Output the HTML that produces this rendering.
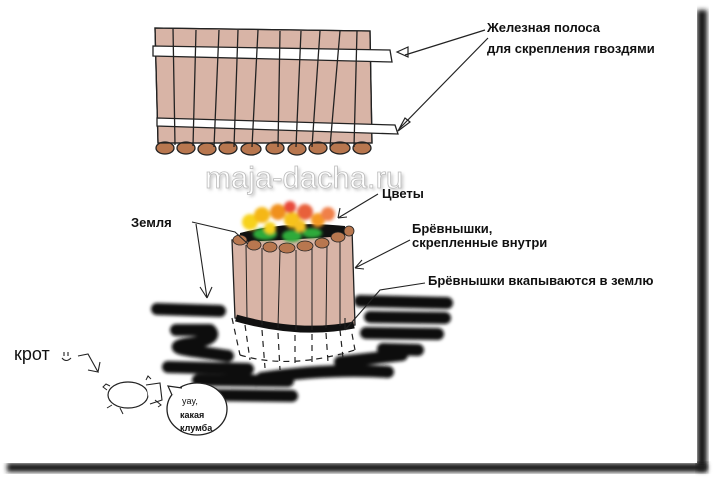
<!DOCTYPE html>
<html><head><meta charset="utf-8"><style>
html,body{margin:0;padding:0;background:#fff;}
svg{display:block}
text{font-family:"Liberation Sans","DejaVu Sans",sans-serif;}
</style></head><body>
<svg width="715" height="481" viewBox="0 0 715 481" xmlns="http://www.w3.org/2000/svg">
<defs>
<filter id="bl" x="-10%" y="-10%" width="120%" height="120%"><feGaussianBlur stdDeviation="1.5"/></filter>
<filter id="bl3" x="-20%" y="-20%" width="140%" height="140%"><feGaussianBlur stdDeviation="2.5"/></filter>
</defs>
<rect width="715" height="481" fill="#fff"/>
<!-- frame shadow -->
<rect x="697" y="10" width="10" height="461" fill="#1a1a1a" filter="url(#bl3)"/>
<rect x="7" y="463" width="700" height="9" fill="#1a1a1a" filter="url(#bl3)"/>
<rect x="0" y="0" width="697" height="463" fill="#fff"/>

<!-- top fence -->
<g stroke="#222" stroke-width="1.3">
<path d="M155,28 L370,31 L372,143 L158,143 Z" fill="#d8b4a6"/>
<g fill="#b8774f">
<ellipse cx="165" cy="148" rx="9" ry="6"/><ellipse cx="186" cy="148" rx="9" ry="6"/><ellipse cx="207" cy="149" rx="9" ry="6"/><ellipse cx="228" cy="148" rx="9" ry="6"/><ellipse cx="251" cy="149" rx="10" ry="6"/><ellipse cx="275" cy="148" rx="9" ry="6"/><ellipse cx="297" cy="149" rx="9" ry="6"/><ellipse cx="318" cy="148" rx="9" ry="6"/><ellipse cx="340" cy="148" rx="10" ry="6"/><ellipse cx="362" cy="148" rx="9" ry="6"/>
</g>
<path d="M155,28 L370,31 L372,143 L158,143 Z" fill="none"/>
<path d="M153,46 L390,50 L392,62 L153,56 Z" fill="#fff"/>
<path d="M157,118 L395,125 L398,134 L157,126 Z" fill="#fff"/>
<path d="M173,28 L175,145 M196,30 L193,146 M219,30 L214,147 M238,30 L234,147 M258,30 L252,147 M280,31 L278,147 M301,31 L296,147 M320,31 L312,147 M340,31 L330,147 M357,31 L354,147" fill="none"/>
</g>
<path d="M485,30 L405,55 M397,52 L408,47 L408,57 Z M488,38 L400,128 M398,131 L405,118 L410,122 Z" stroke="#222" stroke-width="1.2" fill="none"/>
<text x="487" y="32" font-size="13" font-weight="bold" fill="#111">Железная полоса</text>
<text x="487" y="53" font-size="13" font-weight="bold" fill="#111">для скрепления гвоздями</text>

<!-- watermark -->
<text x="207" y="190" font-size="31" fill="#999" opacity="0.6" filter="url(#bl)">maja-dacha.ru</text>
<text x="205" y="188" font-size="31" fill="#fff" stroke="#bbb" stroke-width="0.8">maja-dacha.ru</text>

<!-- ground scribbles -->
<g stroke="#111" stroke-linecap="round" stroke-linejoin="round" fill="none" stroke-width="12" filter="url(#bl)">
<path d="M157,309 L220,311"/>
<path d="M176,330 L210,330 Q220,340 185,344 Q165,348 200,352 L228,356"/>
<path d="M168,367 L248,369"/>
<path d="M198,380 L288,381"/>
<path d="M205,395 L292,396"/>
<path d="M262,378 Q330,368 388,372"/>
<path d="M340,362 L402,355"/>
<path d="M360,301 L447,303"/>
<path d="M370,317 L445,318"/>
<path d="M366,333 L438,334"/>
<path d="M383,349 L418,350"/>
</g>

<!-- planter dashes underground -->
<g stroke="#222" stroke-width="1.2" stroke-dasharray="6,5" fill="none">
<path d="M232,318 L240,355 M245,325 L250,360 M262,330 L265,368 M278,333 L280,370 M295,335 L295,368 M312,334 L312,366 M326,333 L328,362 M340,330 L343,358 M350,323 L355,350 M240,355 Q290,370 355,350"/>
</g>

<!-- planter -->
<path d="M232,240 Q290,232 352,228 L355,325 Q300,335 235,318 Z" fill="#d8b4a6" stroke="#222" stroke-width="1.3"/>
<path d="M236,318 Q300,336 354,325" stroke="#111" stroke-width="7" fill="none"/>
<g stroke="#222" stroke-width="1" fill="none">
<path d="M246,245 L247,318 M262,248 L262,325 M280,250 L278,328 M296,250 L296,330 M312,248 L312,330 M327,245 L326,328 M340,238 L340,326"/>
</g>
<path d="M240,233 Q290,220 345,226 L345,236 Q290,240 240,242 Z" fill="#111"/>
<g fill="#b8774f" stroke="#222" stroke-width="0.8">
<ellipse cx="240" cy="240" rx="7" ry="5"/><ellipse cx="254" cy="245" rx="7" ry="5"/><ellipse cx="270" cy="247" rx="7" ry="5"/><ellipse cx="287" cy="248" rx="8" ry="5"/><ellipse cx="305" cy="246" rx="8" ry="5"/><ellipse cx="322" cy="243" rx="7" ry="5"/><ellipse cx="338" cy="237" rx="7" ry="5"/><ellipse cx="349" cy="231" rx="5" ry="5"/>
</g>
<!-- flowers -->
<g filter="url(#bl)">
<ellipse cx="265" cy="234" rx="12" ry="6" fill="#2eaa3a"/><ellipse cx="292" cy="236" rx="10" ry="6" fill="#2eaa3a"/><ellipse cx="312" cy="233" rx="10" ry="5" fill="#2eaa3a"/>
<circle cx="250" cy="222" r="8" fill="#f7d21a"/><circle cx="262" cy="215" r="8" fill="#f5b716"/><circle cx="278" cy="212" r="8" fill="#f0901f"/><circle cx="292" cy="220" r="8" fill="#f7c21a"/><circle cx="305" cy="212" r="8" fill="#e8603a"/><circle cx="318" cy="220" r="7" fill="#f59a22"/><circle cx="328" cy="214" r="7" fill="#f0804a"/><circle cx="290" cy="207" r="6" fill="#e84a3a"/><circle cx="270" cy="228" r="6" fill="#f7d21a"/><circle cx="300" cy="226" r="6" fill="#f5c020"/>
</g>
<!-- labels arrows -->
<g stroke="#222" stroke-width="1.1" fill="none">
<path d="M378,194 L338,218 M338,218 L340,208 M338,218 L347,217"/>
<path d="M192,222 L235,232 L248,244 M196,224 L207,298 M207,298 L200,287 M207,298 L212,287"/>
<path d="M410,240 L355,268 M355,268 L362,260 M355,268 L364,269"/>
<path d="M425,283 L380,290 L345,330 M345,330 L345,318 M345,330 L352,322"/>
</g>
<text x="382" y="198" font-size="13" font-weight="bold" fill="#111">Цветы</text>
<text x="131" y="227" font-size="13" font-weight="bold" fill="#111">Земля</text>
<text x="412" y="233" font-size="13" font-weight="bold" fill="#111">Брёвнышки,</text>
<text x="412" y="247" font-size="13" font-weight="bold" fill="#111">скрепленные внутри</text>
<text x="428" y="285" font-size="13" font-weight="bold" fill="#111">Брёвнышки вкапываются в землю</text>

<!-- mole -->
<text x="14" y="360" font-size="18" fill="#111">крот</text>
<path d="M64,352 L64,356 M68,352 L68,356 M62,358 Q66,363 71,358 M78,356 L88,354 L98,372 L88,370 M98,372 L100,362" stroke="#222" stroke-width="1.1" fill="none"/>
<ellipse cx="128" cy="395" rx="20" ry="13" fill="#fff" stroke="#222" stroke-width="1.2"/>
<path d="M146,385 L160,383 L162,400 L150,404" fill="#fff" stroke="#222" stroke-width="1.1"/>
<path d="M107,390 l-4,-3 l3,-3 l4,2 M112,405 l-5,3 M155,400 l6,5 l-3,2 M120,408 l3,6 M146,380 l2,-4 l3,3" stroke="#222" stroke-width="1" fill="none"/>
<ellipse cx="197" cy="409" rx="30" ry="26" fill="#fff" stroke="#222" stroke-width="1.3"/>
<path d="M172,395 L168,386 L182,388" fill="#fff" stroke="#222" stroke-width="1.2"/>
<text x="182" y="404" font-size="9" fill="#111">yay,</text>
<text x="180" y="418" font-size="9" font-weight="bold" fill="#111">какая</text>
<text x="180" y="431" font-size="9" font-weight="bold" fill="#111">клумба</text>
</svg>
</body></html>
